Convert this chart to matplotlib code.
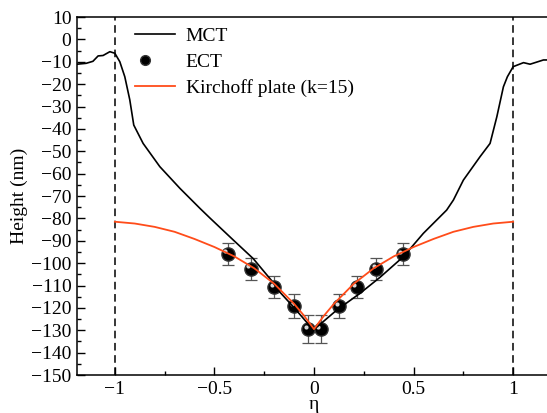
import numpy as np
import matplotlib.pyplot as plt
import matplotlib.transforms as mtransforms
from matplotlib.legend_handler import HandlerTuple

plt.rcParams['font.family'] = ['Liberation Serif', 'DejaVu Serif']

# MCT profile (black line)
mct_x = [-1.19, -1.144, -1.11, -1.084, -1.059, -1.025, -1.0, -0.975, -0.95, -0.925,
         -0.905, -0.858, -0.774, -0.673, -0.573, -0.523, -0.405, -0.305,
         -0.213, -0.171, -0.104, -0.003, 0.114, 0.231, 0.332, 0.449, 0.549, 0.666,
         0.700, 0.750, 0.834, 0.884, 0.918, 0.951, 0.971, 1.0, 1.052, 1.085, 1.152, 1.19]
mct_y = [-11.1, -10.7, -9.8, -7.4, -7.2, -5.5, -6.2, -10.0, -16.7, -27.0,
         -38.3, -46.5, -56.9, -66.6, -75.5, -79.8, -89.7, -98.0,
         -107.8, -113.0, -119.5, -129.9, -121.0, -113.5, -106.3, -97.1, -86.7, -76.3,
         -71.8, -62.9, -52.4, -46.5, -34.6, -21.2, -16.7, -12.2, -10.4, -11.1, -9.2, -9.2]

# ECT measurements
ect_x = [-0.432, -0.317, -0.200, -0.099, -0.029, 0.034, 0.127, 0.214, 0.312, 0.446]
ect_y = [-95.9, -102.6, -110.8, -119.2, -129.6, -129.6, -119.2, -110.8, -102.6, -96.0]
ect_err = [4.8, 4.8, 5.0, 5.2, 6.3, 6.3, 5.2, 5.0, 4.8, 4.8]

# Kirchoff plate (k=15)
kp_x = [-1.0, -0.9, -0.8, -0.7, -0.6, -0.5, -0.4, -0.3, -0.2, -0.1, -0.05, 0.0,
        0.05, 0.1, 0.2, 0.3, 0.4, 0.5, 0.6, 0.7, 0.8, 0.9, 1.0]
kp_y = [-81.5, -82.3, -83.8, -86.0, -89.2, -92.8, -97.0, -102.3, -109.2, -118.2, -123.5, -129.5,
        -123.5, -118.2, -109.2, -102.3, -97.0, -92.8, -89.2, -86.0, -83.8, -82.3, -81.5]

fig = plt.figure(figsize=(5.47, 4.13), dpi=100)
ax = fig.add_axes([77 / 547, 1 - 375 / 413, 474 / 547, 358 / 413])

ax.axvline(-1, color='black', ls=(0, (5, 3)), lw=1.1, zorder=1)
ax.axvline(1, color='black', ls=(0, (5, 3)), lw=1.1, zorder=1)

ax.errorbar(ect_x, ect_y, yerr=ect_err, fmt='none', ecolor='#555555',
            elinewidth=0.9, capsize=4, capthick=0.9, zorder=2)
ax.plot(ect_x, ect_y, 'o', ms=9.5, mfc='black', mec='#333333', zorder=3)
hl = mtransforms.offset_copy(ax.transData, fig=fig, x=-1.8, y=1.8, units='points')
ax.plot(ect_x, ect_y, 'o', ms=3, mfc='white', mec='none', alpha=0.85,
        transform=hl, zorder=3.5)

l_mct, = ax.plot(mct_x, mct_y, color='black', lw=1.2, zorder=4)
l_kp, = ax.plot(kp_x, kp_y, color='#ff4c1a', lw=1.3, zorder=5)

h_dark, = ax.plot([], [], 'o', ms=7, mfc='black', mec='#333333')
h_light, = ax.plot([], [], 'o', ms=2.2, mfc='white', mec='none')

leg = ax.legend([l_mct, (h_dark, h_light), l_kp], ['MCT', 'ECT', 'Kirchoff plate (k=15)'],
                handler_map={tuple: HandlerTuple(ndivide=None, pad=0)},
                loc='upper left', bbox_to_anchor=(0.085, 1.02), frameon=False,
                fontsize=14, handlelength=2.07, handletextpad=0.55, labelspacing=0.42)

ax.set_xlim(-1.19, 1.19)
ax.set_ylim(-150, 10)
ax.set_xticks([-1, -0.5, 0, 0.5, 1])
ax.set_xticklabels(['\u22121', '\u22120.5', '0', '0.5', '1'])
ax.set_xticks([-0.75, -0.25, 0.25, 0.75], minor=True)
ax.set_yticks(np.arange(-150, 11, 10))
ax.set_yticks(np.arange(-145, 10, 10), minor=True)
ax.tick_params(which='both', direction='in', top=False, right=False, labelsize=14)
ax.tick_params(which='major', length=6, width=1, pad=4)
ax.tick_params(which='minor', length=3, width=1)
for s in ax.spines.values():
    s.set_linewidth(1.1)

ax.set_xlabel('\u03b7', fontsize=14, labelpad=-1)
ax.set_ylabel('Height (nm)', fontsize=14, labelpad=2)

fig.savefig('out.png', dpi=100)
